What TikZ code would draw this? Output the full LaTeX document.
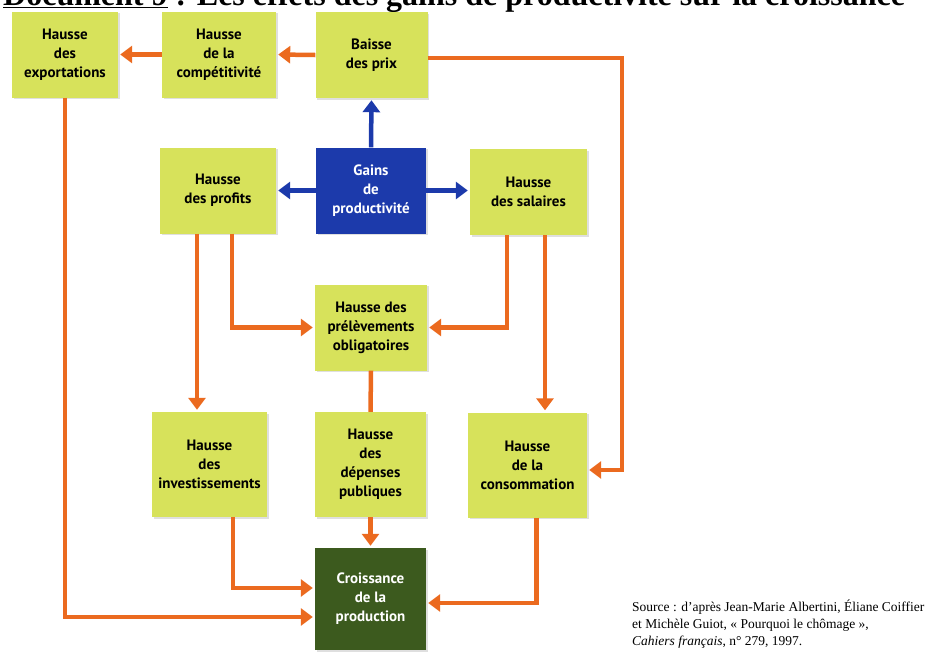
\documentclass[tikz,border=0pt]{standalone}
\usepackage{fontspec}
\setmainfont{Liberation Serif}
\setsansfont{PT Sans}
\usepackage{tikz}
\usetikzlibrary{arrows.meta,shadows}
\usepackage{xcolor}
\definecolor{boxlime}{HTML}{D7E25B}
\definecolor{gainsblue}{HTML}{1C3AAB}
\definecolor{growthgreen}{HTML}{3C5A1E}
\definecolor{flow}{HTML}{EB6A1F}

\tikzset{
    box/.style={fill=boxlime, minimum width=112pt, minimum height=86pt, align=center,
        inner sep=2pt, font=\sffamily\bfseries\fontsize{15}{19}\selectfont,
        drop shadow={shadow xshift=1.5pt, shadow yshift=-1.5pt, opacity=.25}},
    tallbox/.style={box, minimum height=105pt},
    link/.style={draw=flow, line width=4.5pt, shorten >=2pt, -{Triangle[width=17pt,length=12pt]}},
    plain/.style={draw=flow, line width=4.5pt},
    bluelink/.style={draw=gainsblue, line width=4.5pt, shorten >=2pt, -{Triangle[width=17pt,length=12pt]}}
}

\begin{document}
\begin{tikzpicture}[x=1pt, y=-1pt]
    \useasboundingbox (0,0) rectangle (928,657);

    \node[anchor=base west, inner sep=0pt, font=\bfseries\fontsize{32}{34}\selectfont] (title) at (3,5)
        {\underline{Document 9} : Les effets des gains de productivité sur la croissance};

    \node[box, minimum width=106pt] (export) at (65,54.5) {Hausse\\des\\exportations};
    \node[box, minimum width=114pt] (compet) at (219,54.5) {Hausse\\de la\\compétitivité};
    \node[box] (prix) at (371.5,55) {Baisse\\des prix};
    \node[box, minimum width=116pt] (profits) at (218,190.5) {Hausse\\des profits};
    \node[box, fill=gainsblue, text=white, minimum width=110pt] (gains) at (371,190.5) {Gains\\de\\productivité};
    \node[box, minimum width=117pt] (salaires) at (528.5,192) {Hausse\\des salaires};
    \node[box] (prelev) at (371,327.5) {Hausse des\\prélèvements\\obligatoires};
    \node[tallbox, minimum width=115pt] (invest) at (209.5,464.5) {Hausse\\des\\investissements};
    \node[tallbox, minimum width=111pt] (depenses) at (370.5,464.5) {Hausse\\des\\dépenses\\publiques};
    \node[tallbox, minimum width=119pt] (conso) at (527.5,465) {Hausse\\de la\\consommation};
    \node[tallbox, minimum height=102pt, minimum width=111pt, fill=growthgreen, text=white] (croiss) at (370.5,599)
        {Croissance\\de la\\production};

    \node[anchor=north west, align=left, inner sep=0pt, font=\fontsize{13.5}{17}\selectfont] (source) at (632,600)
        {Source : d'après Jean-Marie Albertini, Éliane Coiffier\\
         et Michèle Guiot, « Pourquoi le chômage »,\\
         \textit{Cahiers français}, n° 279, 1997.};

    \coordinate (loopR) at (622,300);
    \coordinate (profitsL) at ([xshift=-21pt]profits.south);
    \coordinate (profitsR) at ([xshift=14pt]profits.south);
    \coordinate (salairesL) at ([xshift=-21.5pt]salaires.south);
    \coordinate (salairesR) at ([xshift=16.5pt]salaires.south);
    \coordinate (investOut) at ([xshift=23.5pt]invest.south);
    \coordinate (consoOut) at ([xshift=9pt]conso.south);

    \draw[bluelink] (gains.north) -- (prix.south);
    \draw[bluelink] (gains.west) -- (profits.east);
    \draw[bluelink] (gains.east) -- (gains.east -| salaires.west);

    \draw[link] (prix.west) -- (compet.east);
    \draw[link] (compet.west) -- (export.east);
    \draw[link] ([yshift=-3pt]prix.east) -| (loopR) |- ([yshift=-5pt]conso.east);
    \draw[link] (profitsL) -- (profitsL |- invest.north);
    \draw[link] (profitsR) |- (prelev.west);
    \draw[link] (salairesL) |- (prelev.east);
    \draw[link] (salairesR) -- (salairesR |- conso.north);
    \draw[plain] (prelev.south) -- (depenses.north);
    \draw[link] (depenses.south) -- (croiss.north);
    \draw[link] (investOut) |- ([yshift=11pt]croiss.west);
    \draw[link] (export.south) |- ([yshift=-18pt]croiss.west);
    \draw[link] (consoOut) |- ([yshift=-4pt]croiss.east);
\end{tikzpicture}
\end{document}
